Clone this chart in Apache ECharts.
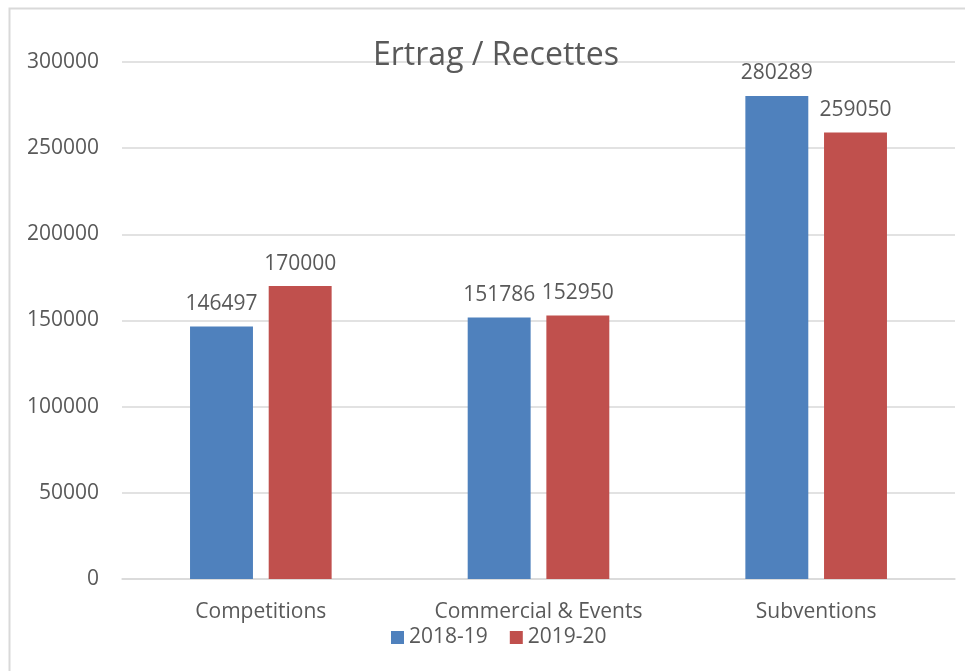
<!DOCTYPE html>
<html>
<head>
<meta charset="utf-8">
<script src="https://cdn.jsdelivr.net/npm/echarts@6/dist/echarts.min.js"></script>
<style>
  html, body { margin: 0; padding: 0; background: #fff; }
  #chart { width: 965px; height: 671px; }
</style>
</head>
<body>
<div id="chart"></div>
<script>
const categories = ['Competitions', 'Commercial & Events', 'Subventions'];
const seriesNames = ['2018-19', '2019-20'];
const values1819 = [146497, 151786, 280289];
const values1920 = [170000, 152950, 259050];

const textColor = '#595959';
const font = '"Open Sans", "Noto Sans", sans-serif';

const chart = echarts.init(document.getElementById('chart'));

const option = {
    backgroundColor: '#fff',
    textStyle: { fontFamily: font },
    graphic: [
        {
            type: 'rect',
            shape: { x: 9.5, y: 8.5, width: 1000, height: 700 },
            style: { fill: 'none', stroke: '#d9d9d9', lineWidth: 2 },
            silent: true
        }
    ],
    title: {
        text: 'Ertrag / Recettes',
        left: 368,
        top: 35,
        textStyle: { fontFamily: font, fontSize: 32, fontWeight: 'normal', color: textColor }
    },
    legend: {
        data: seriesNames,
        bottom: 18,
        left: 386,
        itemWidth: 13,
        itemHeight: 13,
        itemGap: 22,
        icon: 'rect',
        textStyle: { fontFamily: font, fontSize: 21, color: textColor }
    },
    grid: { left: 122, right: 10, top: 62, bottom: 92, containLabel: false },
    xAxis: {
        type: 'category',
        data: categories,
        axisLine: { lineStyle: { color: '#d9d9d9', width: 1.5 } },
        axisTick: { show: false },
        axisLabel: { color: textColor, fontSize: 21, margin: 23 }
    },
    yAxis: {
        type: 'value',
        min: 0,
        max: 300000,
        interval: 50000,
        axisLine: { show: false },
        axisTick: { show: false },
        splitLine: { lineStyle: { color: '#d9d9d9', width: 1.5 } },
        axisLabel: { color: textColor, fontSize: 21, margin: 23, formatter: v => String(v) }
    },
    series: [
        {
            name: seriesNames[0],
            type: 'bar',
            data: values1819,
            barGap: '25%',
            barCategoryGap: '49%',
            itemStyle: { color: '#4f81bd' },
            label: { show: true, position: 'top', distance: 12, color: textColor, fontSize: 21, fontFamily: font }
        },
        {
            name: seriesNames[1],
            type: 'bar',
            data: values1920,
            barGap: '25%',
            barCategoryGap: '49%',
            itemStyle: { color: '#c0504d' },
            label: { show: true, position: 'top', distance: 12, color: textColor, fontSize: 21, fontFamily: font }
        }
    ]
};

chart.setOption(option);
</script>
</body>
</html>
